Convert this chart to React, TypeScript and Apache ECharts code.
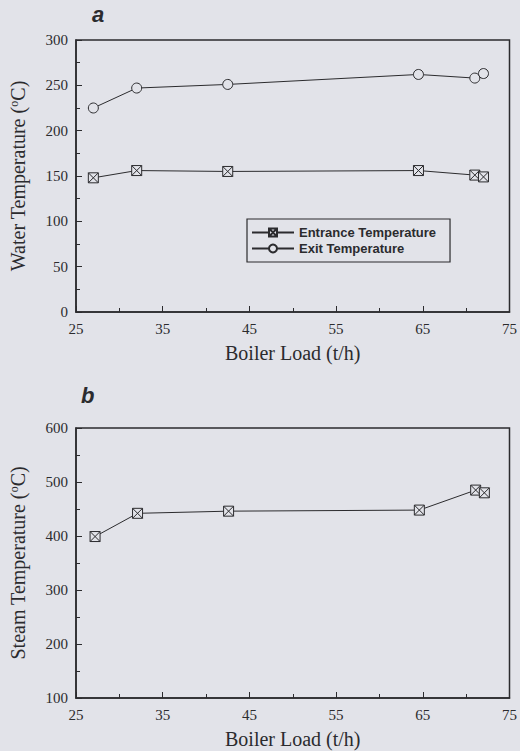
import React, { useEffect, useRef } from "react";
import * as echarts from "echarts";

const boilerLoad = [27, 32, 42.5, 64.5, 71, 72];
const entranceTemp = [148, 156, 155, 156, 151, 149];
const exitTemp = [225, 247, 251, 262, 258, 263];
const steamLoad = [27.2, 32.1, 42.6, 64.6, 71.1, 72.1];
const steamTemp = [399, 442, 446, 448, 485, 480];

const INK = "#2b2b2e";
const BG = "#e2e3e9";
const SERIF = "'Liberation Serif', 'DejaVu Serif', serif";
const SANS = "'Liberation Sans', Arial, sans-serif";
const BOXX = "path://M0,0L10,0L10,10L0,10ZM0,0L10,10M10,0L0,10";

const pairs = (xs: number[], ys: number[]) => xs.map((x, i) => [x, ys[i]]);

export default function App() {
  const ref = useRef<HTMLDivElement>(null);
  useEffect(() => {
    if (!ref.current) return;
    const chart = echarts.init(ref.current, undefined, { renderer: "svg" });
    const xAxisBase = (gridIndex: number) => ({
      type: "value",
      gridIndex,
      min: 25,
      max: 75,
      interval: 10,
      name: "Boiler Load (t/h)",
      nameLocation: "middle",
      nameGap: 31,
      nameTextStyle: { fontFamily: SERIF, fontSize: 20, color: INK },
      axisLine: { show: true, lineStyle: { color: INK, width: 1.5 } },
      axisTick: { show: true, inside: true, length: 6, lineStyle: { color: INK } },
      minorTick: { show: true, splitNumber: 2, length: 4, lineStyle: { color: INK } },
      axisLabel: { fontFamily: SERIF, fontSize: 15, color: INK, margin: 9 },
      splitLine: { show: false },
    });
    const yAxisBase = (gridIndex: number, name: string, min: number, max: number, interval: number) => ({
      type: "value",
      gridIndex,
      min,
      max,
      interval,
      name,
      nameLocation: "middle",
      nameGap: 48,
      nameTextStyle: {
        fontFamily: SERIF,
        fontSize: 20,
        color: INK,
        rich: { sup: { fontFamily: SERIF, fontSize: 12, color: INK, verticalAlign: "top", padding: [0, 0, 8, 0] } },
      },
      axisLine: { show: true, lineStyle: { color: INK, width: 1.5 } },
      axisTick: { show: true, inside: true, length: 6, lineStyle: { color: INK } },
      minorTick: { show: true, splitNumber: 2, length: 4, lineStyle: { color: INK } },
      axisLabel: { fontFamily: SERIF, fontSize: 15, color: INK, margin: 8 },
      splitLine: { show: false },
    });
    const lineStyle = { color: INK, width: 1 };
    chart.setOption({
      animation: false,
      backgroundColor: BG,
      grid: [
        { left: 76, top: 40, width: 436, height: 272, show: true, borderColor: INK, borderWidth: 1.5, backgroundColor: "transparent" },
        { left: 76, top: 428, width: 436, height: 270, show: true, borderColor: INK, borderWidth: 1.5, backgroundColor: "transparent" },
      ],
      xAxis: [xAxisBase(0), xAxisBase(1)],
      yAxis: [
        yAxisBase(0, "Water Temperature ({sup|o}C)", 0, 300, 50),
        yAxisBase(1, "Steam Temperature ({sup|o}C)", 100, 600, 100),
      ],
      legend: {
        data: ["Entrance Temperature", "Exit Temperature"],
        orient: "vertical",
        left: 247,
        top: 219,
        width: 206,
        itemWidth: 42,
        itemHeight: 10,
        itemGap: 3,
        padding: [7, 14, 7, 4],
        borderColor: INK,
        borderWidth: 1.2,
        backgroundColor: "transparent",
        textStyle: { fontFamily: SANS, fontSize: 13, fontWeight: "bold", color: INK },
      },
      graphic: [
        { type: "text", left: 92, top: 3, style: { text: "a", font: `italic bold 22px ${SANS}`, fill: INK } },
        { type: "text", left: 81, top: 384, style: { text: "b", font: `italic bold 22px ${SANS}`, fill: INK } },
      ],
      series: [
        {
          name: "Entrance Temperature",
          type: "line",
          xAxisIndex: 0,
          yAxisIndex: 0,
          data: pairs(boilerLoad, entranceTemp),
          symbol: BOXX,
          symbolSize: 10,
          lineStyle,
          itemStyle: { color: BG, borderColor: INK, borderWidth: 1 },
        },
        {
          name: "Exit Temperature",
          type: "line",
          xAxisIndex: 0,
          yAxisIndex: 0,
          data: pairs(boilerLoad, exitTemp),
          symbol: "circle",
          symbolSize: 10,
          lineStyle,
          itemStyle: { color: BG, borderColor: INK, borderWidth: 1 },
        },
        {
          name: "Steam Temperature",
          type: "line",
          xAxisIndex: 1,
          yAxisIndex: 1,
          data: pairs(steamLoad, steamTemp),
          symbol: BOXX,
          symbolSize: 10,
          lineStyle,
          itemStyle: { color: BG, borderColor: INK, borderWidth: 1 },
        },
      ],
    });
    return () => chart.dispose();
  }, []);
  return (
    <div
      ref={ref}
      style={{ position: "fixed", left: 0, top: 0, width: 520, height: 751 }}
    />
  );
}
